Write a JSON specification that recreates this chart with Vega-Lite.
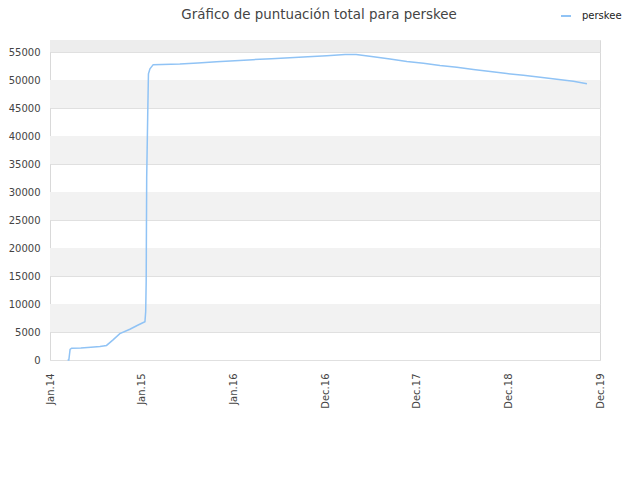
{
  "$schema": "https://vega.github.io/schema/vega-lite/v6.json",
  "width": 550,
  "height": 320,
  "autosize": {"type": "none"},
  "padding": {"left": 50, "top": 40, "right": 40, "bottom": 120},
  "background": "white",
  "config": {
    "font": "DejaVu Sans",
    "view": {"stroke": "#d9d9d9", "strokeWidth": 1},
    "axis": {"labelFont": "DejaVu Sans", "labelFontSize": 10, "labelColor": "#444444"},
    "axisY": {"tickCount": 12, "labelOverlap": false, "gridColor": "#e0e0e0", "ticks": false, "domain": false, "labelPadding": 10, "zindex": 1}
  },
  "title": {
    "text": "Gráfico de puntuación total para perskee",
    "fontSize": 13.4,
    "fontWeight": "normal",
    "color": "#444444",
    "font": "DejaVu Sans",
    "anchor": "middle",
    "offset": 6,
    "dy": 17,
    "dx": -6
  },
  "layer": [
    {
      "data": {"values": [
        {"lo": 5000, "hi": 10000},
        {"lo": 15000, "hi": 20000},
        {"lo": 25000, "hi": 30000},
        {"lo": 35000, "hi": 40000},
        {"lo": 45000, "hi": 50000}
      ]},
      "mark": {"type": "rect", "color": "#f2f2f2"},
      "encoding": {
        "y": {
          "field": "lo",
          "type": "quantitative",
          "scale": {"domain": [0, 57143], "nice": false},
          "axis": {
            "title": null,
            "values": [0, 5000, 10000, 15000, 20000, 25000, 30000, 35000, 40000, 45000, 50000, 55000],
            "format": "d",
            "grid": true,
            "labelOverlap": false
          }
        },
        "y2": {"field": "hi"}
      }
    },
    {
      "data": {"values": [{"lo": 55000, "hi": 57143}]},
      "mark": {"type": "rect", "color": "#ededed"},
      "encoding": {
        "y": {
          "field": "lo",
          "type": "quantitative",
          "axis": {
            "title": null,
            "values": [0, 5000, 10000, 15000, 20000, 25000, 30000, 35000, 40000, 45000, 50000, 55000],
            "format": "d",
            "grid": true,
            "labelOverlap": false
          }
        },
        "y2": {"field": "hi"}
      }
    },
    {
      "data": {"values": [
        {"date": "2014-03-12", "score": 0, "series": "perskee"},
        {"date": "2014-03-17", "score": 0, "series": "perskee"},
        {"date": "2014-03-22", "score": 1900, "series": "perskee"},
        {"date": "2014-03-28", "score": 2100, "series": "perskee"},
        {"date": "2014-05-04", "score": 2150, "series": "perskee"},
        {"date": "2014-06-13", "score": 2280, "series": "perskee"},
        {"date": "2014-07-19", "score": 2400, "series": "perskee"},
        {"date": "2014-08-14", "score": 2600, "series": "perskee"},
        {"date": "2014-09-09", "score": 3600, "series": "perskee"},
        {"date": "2014-10-06", "score": 4700, "series": "perskee"},
        {"date": "2014-11-15", "score": 5500, "series": "perskee"},
        {"date": "2014-12-18", "score": 6250, "series": "perskee"},
        {"date": "2015-01-14", "score": 6840, "series": "perskee"},
        {"date": "2015-01-17", "score": 8600, "series": "perskee"},
        {"date": "2015-01-19", "score": 14000, "series": "perskee"},
        {"date": "2015-01-21", "score": 32500, "series": "perskee"},
        {"date": "2015-01-25", "score": 43500, "series": "perskee"},
        {"date": "2015-01-28", "score": 51100, "series": "perskee"},
        {"date": "2015-02-03", "score": 52000, "series": "perskee"},
        {"date": "2015-02-16", "score": 52740, "series": "perskee"},
        {"date": "2015-06-02", "score": 52860, "series": "perskee"},
        {"date": "2015-08-13", "score": 53040, "series": "perskee"},
        {"date": "2015-10-26", "score": 53275, "series": "perskee"},
        {"date": "2016-01-07", "score": 53450, "series": "perskee"},
        {"date": "2016-03-19", "score": 53630, "series": "perskee"},
        {"date": "2016-06-01", "score": 53810, "series": "perskee"},
        {"date": "2016-08-13", "score": 53990, "series": "perskee"},
        {"date": "2016-10-24", "score": 54170, "series": "perskee"},
        {"date": "2017-01-07", "score": 54350, "series": "perskee"},
        {"date": "2017-03-21", "score": 54560, "series": "perskee"},
        {"date": "2017-05-04", "score": 54560, "series": "perskee"},
        {"date": "2017-07-12", "score": 54160, "series": "perskee"},
        {"date": "2017-09-16", "score": 53735, "series": "perskee"},
        {"date": "2017-11-22", "score": 53310, "series": "perskee"},
        {"date": "2018-01-27", "score": 53010, "series": "perskee"},
        {"date": "2018-04-03", "score": 52590, "series": "perskee"},
        {"date": "2018-06-09", "score": 52290, "series": "perskee"},
        {"date": "2018-08-14", "score": 51870, "series": "perskee"},
        {"date": "2018-10-20", "score": 51500, "series": "perskee"},
        {"date": "2018-12-25", "score": 51140, "series": "perskee"},
        {"date": "2019-03-01", "score": 50840, "series": "perskee"},
        {"date": "2019-05-07", "score": 50480, "series": "perskee"},
        {"date": "2019-07-12", "score": 50120, "series": "perskee"},
        {"date": "2019-09-16", "score": 49760, "series": "perskee"},
        {"date": "2019-11-09", "score": 49340, "series": "perskee"}
      ]},
      "mark": {"type": "line", "strokeWidth": 1.5, "interpolate": "linear"},
      "encoding": {
        "x": {
          "field": "date",
          "type": "temporal",
          "scale": {
            "type": "utc",
            "domain": [
              {"year": 2014, "month": 1, "date": 1, "utc": true},
              {"year": 2019, "month": 12, "date": 31, "utc": true}
            ]
          },
          "axis": {
            "title": null,
            "grid": false,
            "ticks": false,
            "domain": false,
            "labelAngle": -90,
            "labelPadding": 13,
            "labelOverlap": false,
            "labelExpr": "utcFormat(datum.value, '%b.%y')",
            "values": [
              {"year": 2014, "month": 1, "date": 1, "utc": true},
              {"year": 2015, "month": 1, "date": 1, "utc": true},
              {"year": 2016, "month": 1, "date": 1, "utc": true},
              {"year": 2016, "month": 12, "date": 31, "utc": true},
              {"year": 2017, "month": 12, "date": 31, "utc": true},
              {"year": 2018, "month": 12, "date": 31, "utc": true},
              {"year": 2019, "month": 12, "date": 31, "utc": true}
            ]
          }
        },
        "y": {
          "field": "score",
          "type": "quantitative",
          "axis": {
            "title": null,
            "values": [0, 5000, 10000, 15000, 20000, 25000, 30000, 35000, 40000, 45000, 50000, 55000],
            "format": "d",
            "grid": true,
            "labelOverlap": false
          }
        },
        "color": {
          "field": "series",
          "type": "nominal",
          "scale": {"range": ["#90c3f5"]},
          "legend": {
            "title": null,
            "orient": "none",
            "legendX": 510,
            "legendY": -30,
            "symbolType": "stroke",
            "symbolSize": 100,
            "symbolStrokeWidth": 2,
            "labelOffset": 10,
            "labelFontSize": 10,
            "labelColor": "#222222",
            "labelFont": "DejaVu Sans"
          }
        }
      }
    }
  ]
}
